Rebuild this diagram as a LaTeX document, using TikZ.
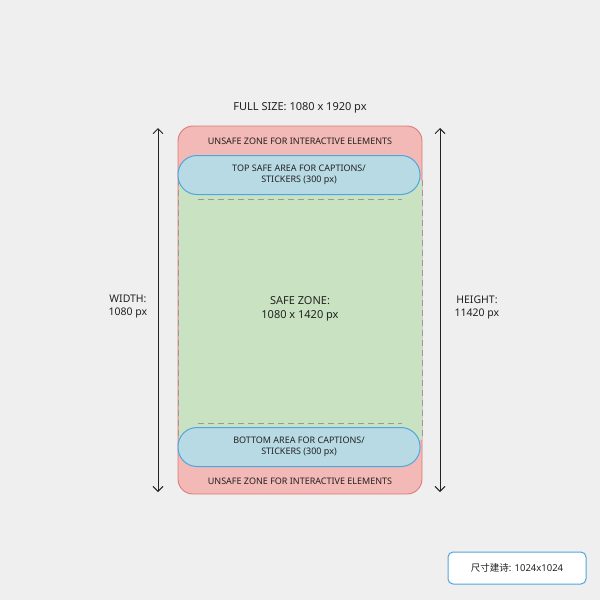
\documentclass[tikz,border=0pt]{standalone}
\usepackage{fontspec}
\usetikzlibrary{arrows.meta}
\setmainfont{Noto Sans}
\newfontfamily\cjk{Noto Sans CJK SC}
\definecolor{bg}{HTML}{EFEFEF}
\definecolor{redf}{HTML}{F2B9B6}
\definecolor{redd}{HTML}{E07A76}
\definecolor{greenf}{HTML}{C9E3C2}
\definecolor{bluef}{HTML}{B8DAE5}
\definecolor{blued}{HTML}{4EA6DE}
\definecolor{txt}{HTML}{222222}
\tikzset{lbl/.style={text=txt,font=\fontsize{9}{11}\selectfont,align=center},
big/.style={text=txt,font=\fontsize{11}{14}\selectfont\bfseries,align=center},
pill/.style={fill=bluef,draw=blued,line width=1pt,rounded corners=19pt},
dsh/.style={draw=gray!80,line width=0.9pt,dash pattern=on 6pt off 4pt},
arr/.style={draw=txt,line width=0.9pt,{Straight Barb[length=5pt]}-{Straight Barb[length=5pt]}}}
\begin{document}
\begin{tikzpicture}[x=1pt,y=-1pt]
\fill[bg] (0,0) rectangle (600,600);
\useasboundingbox (0,0) rectangle (600,600);
\draw[fill=redf,draw=redd,line width=0.9pt,rounded corners=15pt] (178,126) rectangle (422,494);
\fill[greenf] (178.5,180) rectangle (421.5,440);
\draw[dsh] (178,180) -- (178,440);
\draw[dsh] (422,180) -- (422,440);
\draw[dsh] (198,199) -- (402,199);
\draw[dsh] (198,423) -- (402,423);
\node[pill,minimum width=242pt,minimum height=39pt] (top) at (299,175) {};
\node[lbl] at (top) {TOP SAFE AREA FOR CAPTIONS/\\STICKERS (300 px)};
\node[pill,minimum width=242pt,minimum height=39pt] (bot) at (299,447) {};
\node[lbl] at (bot) {BOTTOM AREA FOR CAPTIONS/\\STICKERS (300 px)};
\node[lbl] (ut) at (300,141) {UNSAFE ZONE FOR INTERACTIVE ELEMENTS};
\node[lbl] (ub) at (300,481) {UNSAFE ZONE FOR INTERACTIVE ELEMENTS};
\node[big] (safe) at (300,309) {SAFE ZONE:\\1080 x 1420 px};
\node[big] (title) at (300,108) {FULL SIZE: 1080 x 1920 px};
\coordinate (la) at (158,128); \coordinate (lb) at (158,492);
\coordinate (ra) at (440,128); \coordinate (rb) at (440,492);
\draw[arr] (la) -- (lb);
\draw[arr] (ra) -- (rb);
\node[big,font=\fontsize{10.5}{14}\selectfont\bfseries] (w) at (128,307) {WIDTH:\\[-1pt]\mdseries 1080 px};
\node[big,font=\fontsize{10.5}{14}\selectfont\bfseries] (h) at (477,307) {HEIGHT:\\[-1pt]\mdseries 11420 px};
\node[draw=blued,fill=white,line width=1pt,rounded corners=5pt,minimum width=138pt,minimum height=32pt,text=txt,font=\fontsize{9.5}{11}\selectfont] (badge) at (517,568) {{\cjk 尺寸建诗}: 1024x1024};
\end{tikzpicture}
\end{document}
